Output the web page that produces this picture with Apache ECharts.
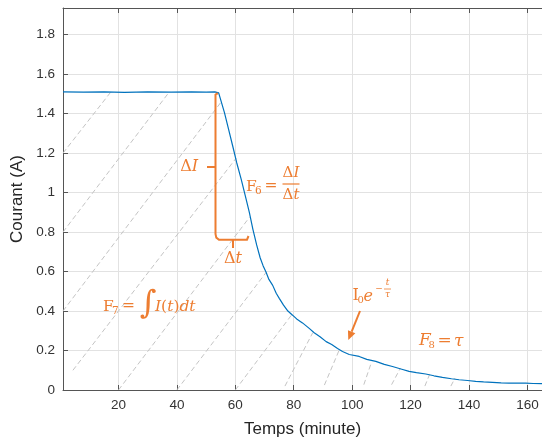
<!DOCTYPE html>
<html><head><meta charset="utf-8">
<script src="https://cdn.jsdelivr.net/npm/echarts@6/dist/echarts.min.js"></script>
<style>html,body{margin:0;padding:0;background:#fff}#c{width:542px;height:443px}</style>
</head><body><div id="c"></div><script>
// ---- data ----
const timeMin = [1, 8, 15, 22, 30, 38, 45, 50, 53, 54.3, 55, 56.3, 57.7, 59.1, 60.5, 62, 63.4, 64.8, 66, 67.3, 68.5, 69.5, 70.5, 71.5, 72.8, 74, 75.1, 76.5, 78, 79.6, 81, 83, 85.3, 87, 89, 91.1, 93, 95, 96.7, 99, 102.4, 105, 108.1, 111, 113.8, 117, 119.5, 122, 125.2, 128, 130.9, 134, 136.6, 139.5, 142.3, 145, 148, 151, 153.7, 157, 159.4, 162, 165];
const currentA = [1.51, 1.509, 1.51, 1.508, 1.51, 1.509, 1.51, 1.509, 1.51, 1.505, 1.47, 1.404, 1.32, 1.236, 1.15, 1.068, 0.985, 0.9, 0.815, 0.735, 0.67, 0.63, 0.598, 0.56, 0.53, 0.49, 0.463, 0.43, 0.4, 0.379, 0.36, 0.34, 0.312, 0.29, 0.27, 0.245, 0.23, 0.21, 0.195, 0.18, 0.17, 0.155, 0.145, 0.13, 0.119, 0.105, 0.094, 0.088, 0.081, 0.072, 0.064, 0.057, 0.052, 0.048, 0.044, 0.041, 0.039, 0.036, 0.035, 0.035, 0.035, 0.033, 0.032];
// dashed hatch segments (start / end, in minutes and amperes)
const hatchStartT = [1, 1, 1, 4.4, 20, 40, 60, 77, 90.5, 104, 113.5, 124.9, 133.8];
const hatchStartI = [1.20, 0.80, 0.40, 0.10, 0, 0, 0, 0.02, 0.025, 0.027, 0.027, 0.02, 0.02];
const hatchEndT = [17.4, 37.4, 55.2, 60.3, 64.8, 70.5, 79.5, 86.5, 95.5, 106.6, 116.5, 126.5, 135.2];
const hatchEndI = [1.51, 1.51, 1.46, 1.175, 0.874, 0.595, 0.385, 0.29, 0.2, 0.14, 0.11, 0.078, 0.06];
const xTickValues = [20, 40, 60, 80, 100, 120, 140, 160];
const yTickValues = [0, 0.2, 0.4, 0.6, 0.8, 1, 1.2, 1.4, 1.6, 1.8];

// ---- chart ----
const sans = '"Liberation Sans", Arial, sans-serif';
const serif = '"DejaVu Serif", "Liberation Serif", serif';
const ORANGE = '#ED7D31';
const AXIS = '#555555';

const chart = echarts.init(document.getElementById('c'));

const series = [];
hatchStartT.forEach((t, i) => {
  series.push({
    type: 'line', xAxisIndex: 0, yAxisIndex: 0, symbol: 'none', silent: true, z: 1,
    lineStyle: { color: '#c4c4c4', width: 1, type: [5, 3] },
    data: [[t, hatchStartI[i]], [hatchEndT[i], hatchEndI[i]]]
  });
});
series.push({
  type: 'line', xAxisIndex: 0, yAxisIndex: 0, symbol: 'none', z: 3,
  lineStyle: { color: '#0072BD', width: 1.2 },
  data: timeMin.map((t, i) => [t, currentA[i]])
});

function t(text, x, y, size, extra) {
  return Object.assign({
    type: 'text', x: x, y: y, z: 100,
    style: Object.assign({ text: text, fill: ORANGE, fontFamily: serif, fontSize: size, align: 'left', verticalAlign: 'middle' }, (extra || {}))
  });
}
function rich(text, x, y, size, align) {
  return {
    type: 'text', x: x, y: y, z: 100,
    style: {
      text: text, fill: ORANGE, align: align || 'left', verticalAlign: 'middle',
      rich: {
        n: { fontFamily: serif, fontSize: size, fill: ORANGE },
        i: { fontFamily: serif, fontSize: size, fontStyle: 'italic', fill: ORANGE }
      }
    }
  };
}
function pl(points, w) {
  return { type: 'polyline', z: 100, shape: { points: points }, style: { stroke: ORANGE, lineWidth: w || 2, fill: null } };
}
function arrow(x1, y1, x2, y2) {
  const dx = x2 - x1, dy = y2 - y1, L = Math.hypot(dx, dy), ux = dx / L, uy = dy / L;
  const hl = 9, hw = 4;
  const bx = x2 - ux * hl, by = y2 - uy * hl;
  return [
    pl([[x1, y1], [bx, by]], 2),
    { type: 'polygon', z: 100, shape: { points: [[x2, y2], [bx - uy * hw, by + ux * hw], [bx + uy * hw, by - ux * hw]] }, style: { fill: ORANGE } }
  ];
}

const graphics = [
  // delta I bar and delta t bracket
  pl([[215.5, 94], [218, 93.5]]),
  pl([[215.5, 94], [215.5, 234], [216.3, 237.6], [219, 239.7], [247, 239.7], [248.5, 236]]),
  pl([[207, 167], [215.5, 167]]),
  pl([[233, 239.7], [233, 248]]),
  rich('{n|Δ}{i|I}', 198, 167, 16, 'right'),
  rich('{n|Δ}{i|t}', 233, 259, 16, 'center'),
  // F6 = dI/dt
  t('F', 246, 187, 15.5),
  t('6', 255, 191.5, 10.5),
  t('=', 264.5, 186, 15.5),
  rich('{n|Δ}{i|I}', 291, 173, 15, 'center'),
  pl([[282.5, 184], [299.5, 184]], 1.2),
  rich('{n|Δ}{i|t}', 291, 195, 15, 'center'),
  // F7 = integral
  t('F', 103, 307, 15.5),
  t('7', 112, 311, 10.5),
  t('=', 122, 306, 15.5),
  t('∫', 148, 305, 32, { align: 'center', fontStyle: 'italic' }),
  rich('{i|I}{n|(}{i|t}{n|)}{i|dt}', 155, 307, 15.5, 'left'),
  // I0 e^{-t/tau}
  t('I', 352.5, 296, 16),
  t('0', 357.5, 300, 10),
  t('e', 363.5, 297, 16, { fontStyle: 'italic' }),
  t('−', 379, 288.5, 9, { align: 'center' }),
  t('t', 387.5, 283, 9, { align: 'center', fontStyle: 'italic' }),
  pl([[384, 289], [391, 289]], 0.8),
  t('τ', 387.5, 294.5, 9, { align: 'center', fontStyle: 'italic' }),
  // F8 = tau
  t('F', 419, 341, 17, { fontStyle: 'italic' }),
  t('8', 428.5, 345.5, 10),
  t('=', 437.5, 341, 17),
  t('τ', 454, 342, 17, { fontStyle: 'italic' })
].concat(arrow(360, 311, 348.3, 340));

const option = {
  animation: false,
  backgroundColor: '#ffffff',
  grid: { left: 63, top: 8, width: 480, height: 384, containLabel: false },
  xAxis: [{
    type: 'value', min: 1, max: 165, position: 'bottom',
    name: 'Temps (minute)', nameLocation: 'middle', nameGap: 31,
    nameTextStyle: { fontFamily: sans, fontSize: 17, color: '#262626' },
    axisLine: { show: true, onZero: false, lineStyle: { color: AXIS, width: 1 } },
    axisTick: { show: true, inside: true, length: 5, customValues: xTickValues, lineStyle: { color: AXIS } },
    axisLabel: { customValues: xTickValues, fontFamily: sans, fontSize: 13.5, color: '#333', margin: 8 },
    splitLine: { show: true, lineStyle: { color: '#e2e2e2', width: 1 } }
  }, {
    type: 'value', min: 1, max: 165, position: 'top',
    axisLine: { show: true, onZero: false, lineStyle: { color: AXIS, width: 1 } },
    axisTick: { show: true, inside: true, length: 5, customValues: xTickValues, lineStyle: { color: AXIS } },
    axisLabel: { show: false }, splitLine: { show: false }
  }],
  yAxis: [{
    type: 'value', min: 0, max: 1.935, position: 'left',
    name: 'Courant (A)', nameLocation: 'middle', nameGap: 28,
    nameTextStyle: { fontFamily: sans, fontSize: 17, color: '#262626' },
    axisLine: { show: true, onZero: false, lineStyle: { color: AXIS, width: 1 } },
    axisTick: { show: true, inside: true, length: 5, customValues: yTickValues, lineStyle: { color: AXIS } },
    axisLabel: { customValues: yTickValues, fontFamily: sans, fontSize: 13.5, color: '#333', margin: 8 },
    splitLine: { show: true, lineStyle: { color: '#e2e2e2', width: 1 } }
  }],
  series: series,
  graphic: graphics
};
chart.setOption(option);
</script></body></html>
